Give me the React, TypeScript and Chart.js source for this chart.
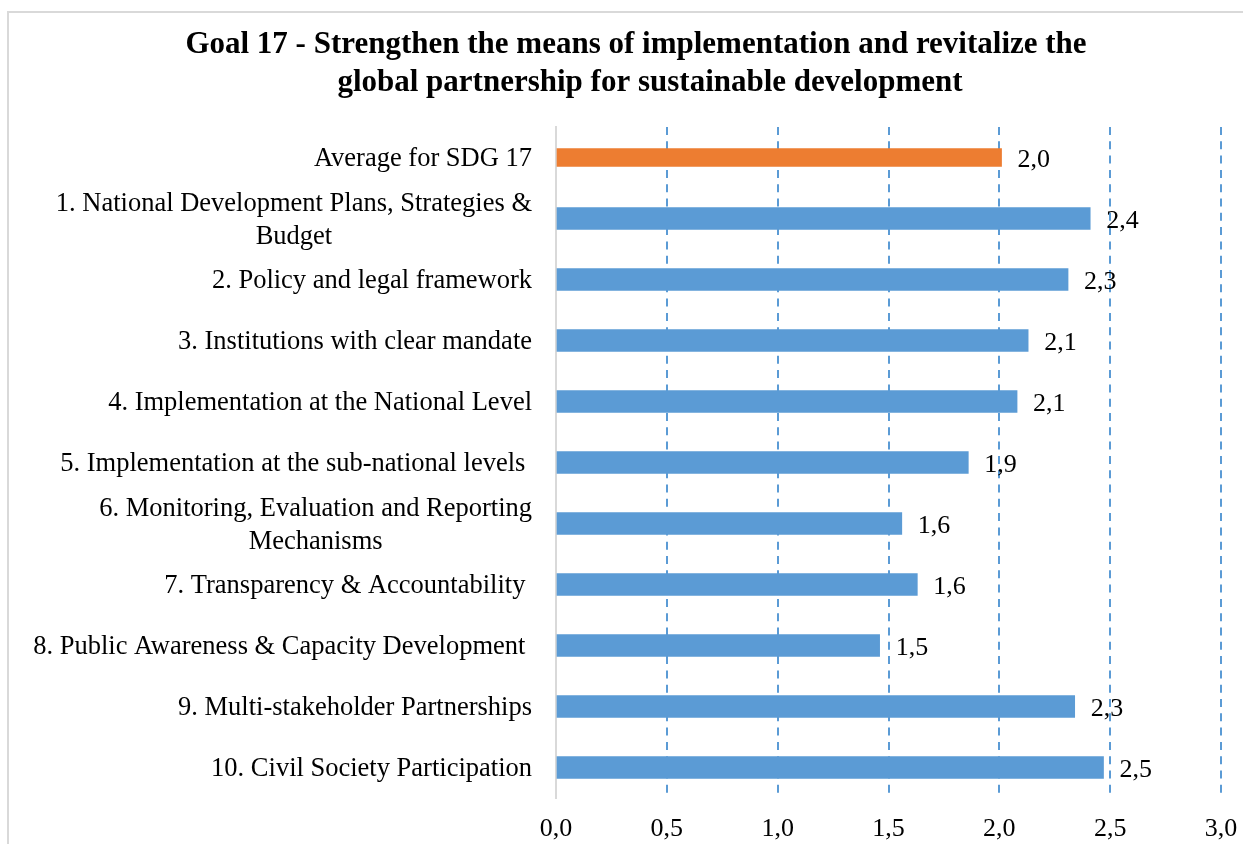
import React, { useEffect, useRef } from 'react';
import { Chart, registerables } from 'chart.js';

Chart.register(...registerables);

const titleLines = [
  'Goal 17 - Strengthen the means of implementation and revitalize the',
  'global partnership for sustainable development',
];

const categories: string[][] = [
  ['Average for SDG 17'],
  ['1. National Development Plans, Strategies &', 'Budget'],
  ['2. Policy and legal framework'],
  ['3. Institutions with clear mandate'],
  ['4. Implementation at the National Level'],
  ['5. Implementation at the sub-national levels '],
  ['6. Monitoring, Evaluation and Reporting', 'Mechanisms'],
  ['7. Transparency & Accountability '],
  ['8. Public Awareness & Capacity Development '],
  ['9. Multi-stakeholder Partnerships'],
  ['10. Civil Society Participation'],
];

const averageScore = [2.01];
const indicatorScores = [2.41, 2.31, 2.13, 2.08, 1.86, 1.56, 1.63, 1.46, 2.34, 2.47];
const xTickValues = [0, 0.5, 1.0, 1.5, 2.0, 2.5, 3.0];

const FONT = '"Liberation Serif", "Times New Roman", serif';
const BLUE = '#5b9bd5';
const ORANGE = '#ed7d31';
const fmt = (v: number) => v.toFixed(1).replace('.', ',');

const decorPlugin = {
  id: 'decor',
  beforeDraw(chart: any) {
    const ctx = chart.ctx;
    ctx.save();
    ctx.fillStyle = '#ffffff';
    ctx.fillRect(0, 0, chart.width, chart.height);
    ctx.strokeStyle = '#d9d9d9';
    ctx.lineWidth = 2;
    ctx.strokeRect(8, 12, chart.width + 100, chart.height + 100);
    ctx.fillStyle = '#000';
    ctx.font = `bold 31px ${FONT}`;
    ctx.textAlign = 'center';
    ctx.textBaseline = 'alphabetic';
    ctx.fillText(titleLines[0], 636, 53);
    ctx.fillText(titleLines[1], 650, 91);
    ctx.restore();
  },
  afterDraw(chart: any) {
    const ctx = chart.ctx;
    const yScale = chart.scales.y;
    const right = chart.chartArea.left - 24;
    ctx.save();
    ctx.fillStyle = '#000';
    ctx.font = `26.5px ${FONT}`;
    ctx.textBaseline = 'middle';
    const lineH = 33;
    categories.forEach((lines, i) => {
      const y = yScale.getPixelForValue(i) + 2;
      const n = lines.length;
      if (n === 1) {
        ctx.textAlign = 'right';
        ctx.fillText(lines[0], right, y);
      } else {
        const w = Math.max(...lines.map((l) => ctx.measureText(l).width));
        ctx.textAlign = 'center';
        lines.forEach((l, j) => {
          ctx.fillText(l, right - w / 2, y + (j - (n - 1) / 2) * lineH);
        });
      }
    });
    ctx.font = `26px ${FONT}`;
    ctx.textAlign = 'left';
    chart.data.datasets.forEach((ds: any, d: number) => {
      const meta = chart.getDatasetMeta(d);
      meta.data.forEach((el: any, i: number) => {
        const v = ds.data[i];
        if (v == null) return;
        ctx.fillText(fmt(v), el.x + 16, el.y + 3);
      });
    });
    ctx.restore();
  },
};

export default function App() {
  const ref = useRef<HTMLCanvasElement | null>(null);

  useEffect(() => {
    document.body.style.margin = '0';
    document.body.style.overflow = 'hidden';
    if (!ref.current) return;
    const averageData = categories.map((_, i) => (i === 0 ? averageScore[0] : null));
    const indicatorData = categories.map((_, i) => (i === 0 ? null : indicatorScores[i - 1]));
    const chart = new Chart(ref.current, {
      type: 'bar',
      data: {
        labels: categories.map((c) => c.join(' ')),
        datasets: [
          {
            label: 'Average',
            data: averageData,
            backgroundColor: ORANGE,
            barThickness: 18,
          },
          {
            label: 'Score',
            data: indicatorData,
            backgroundColor: BLUE,
            barThickness: 22,
          },
        ],
      },
      options: {
        indexAxis: 'y',
        responsive: false,
        animation: false,
        layout: { padding: { top: 127, right: 22, left: 0, bottom: 0 } },
        plugins: {
          legend: { display: false },
          tooltip: { enabled: false },
          title: { display: false },
        },
        scales: {
          x: {
            stacked: true,
            min: 0,
            max: 3,
            afterBuildTicks: (scale: any) => {
              scale.ticks = xTickValues.map((v) => ({ value: v }));
            },
            afterFit: (scale: any) => {
              scale.height = 46;
              scale.paddingLeft = 0;
              scale.paddingRight = 0;
            },
            ticks: {
              color: '#000',
              font: { family: FONT, size: 26 },
              padding: 16,
              callback: (v: any) => fmt(Number(v)),
            },
            grid: {
              color: (c: any) => (c.tick && c.tick.value === 0 ? 'rgba(0,0,0,0)' : BLUE),
              lineWidth: 2,
              drawTicks: false,
            },
            border: { display: false, dash: [8, 6.3] },
          },
          y: {
            stacked: true,
            afterFit: (scale: any) => {
              scale.width = 556;
            },
            ticks: { display: false },
            grid: { display: false, drawTicks: false },
            border: { display: true, color: '#d9d9d9', width: 2 },
          },
        },
      },
      plugins: [decorPlugin],
    });
    return () => chart.destroy();
  }, []);

  return <canvas ref={ref} width={1243} height={844} style={{ display: 'block', width: 1243, height: 844 }} />;
}
